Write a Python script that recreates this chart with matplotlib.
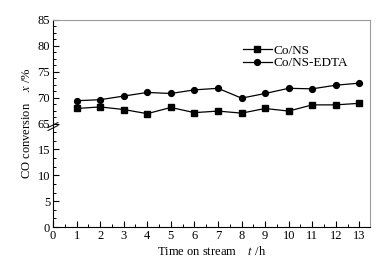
import numpy as np
import matplotlib
matplotlib.use("Agg")
import matplotlib.pyplot as plt

plt.rcParams['font.family'] = ['Liberation Serif', 'DejaVu Serif']
plt.rcParams['mathtext.fontset'] = 'stix'

hours = [1, 2, 3, 4, 5, 6, 7, 8, 9, 10, 11, 12, 13]
co_ns = [67.9, 68.2, 67.7, 66.9, 68.1, 67.1, 67.4, 67.0, 67.9, 67.4, 68.6, 68.6, 68.9]
co_ns_edta = [69.4, 69.6, 70.3, 71.0, 70.8, 71.5, 71.8, 69.9, 70.8, 71.8, 71.7, 72.4, 72.8]
ytick_vals = [0, 5, 10, 15, 65, 70, 75, 80, 85]
xtick_vals = list(range(0, 14))


def fwd(y):
    y = np.asarray(y, dtype=float)
    return np.where(y <= 15, y / 5.0,
                    np.where(y < 65, 3 + (y - 15) / 50.0, 4 + (y - 65) / 5.0))


def inv(p):
    p = np.asarray(p, dtype=float)
    return np.where(p <= 3, p * 5.0,
                    np.where(p < 4, 15 + (p - 3) * 50.0, 65 + (p - 4) * 5.0))


fig = plt.figure(figsize=(3.79, 2.65), dpi=100)
ax = fig.add_axes([53/379, 1-227/265, (370-53)/379, (227-20)/265])
ax.set_yscale('function', functions=(fwd, inv))

ax.plot(hours, co_ns, '-s', color='black', lw=0.9, ms=3.8, label='Co/NS')
ax.plot(hours, co_ns_edta, '-o', color='black', lw=0.9, ms=4.2, label='Co/NS-EDTA')

ax.set_xlim(0, 13.45)
ax.set_ylim(0, 85)
ax.set_xticks(xtick_vals)
ax.set_xticks(np.arange(0.5, 13.5, 1.0), minor=True)
ax.set_yticks(ytick_vals)
ax.set_yticklabels([str(v) for v in ytick_vals])
minor_pos = list(np.arange(0, 4, 1/3.0)) + list(np.arange(4, 8, 0.25))
ax.set_yticks(inv(np.array(minor_pos)), minor=True)
ax.yaxis.set_minor_formatter(matplotlib.ticker.NullFormatter())

ax.tick_params(which='both', direction='in', top=False, right=False, labelsize=9, pad=2)
ax.tick_params(which='major', length=4, width=0.8)
ax.tick_params(which='minor', length=2.2, width=0.7)

for s in ['top', 'right']:
    ax.spines[s].set_color('#9a9a9a')
for s in ['left', 'bottom']:
    ax.spines[s].set_color('black')
    ax.spines[s].set_linewidth(0.8)

# axis break marks
w, h = 317.0, 207.0
for off in (-1.5, -4.5):
    yc = 0.5 + off / h
    ax.plot([-5/w, 5/w], [yc - 2.5/h, yc + 2.5/h], transform=ax.transAxes,
            color='black', lw=0.7, clip_on=False)

ax.set_xlabel('Time on stream    $t$ /h', fontsize=9, labelpad=2)
ax.set_ylabel('CO conversion    $x$ /%', fontsize=9, labelpad=3)

leg = ax.legend(loc='upper left', bbox_to_anchor=(0.57, 0.925), frameon=False,
                fontsize=9.5, handlelength=2.2, handletextpad=0.1,
                labelspacing=0.0, borderpad=0.2)

fig.savefig('out.png', dpi=100)
